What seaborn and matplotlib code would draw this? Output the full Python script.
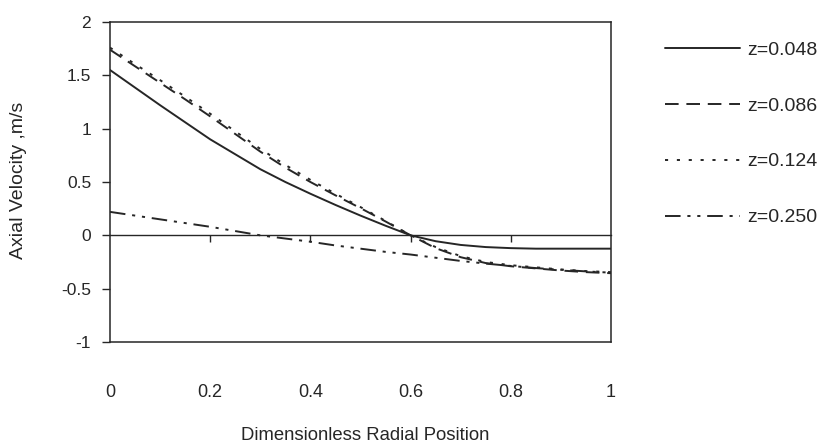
import numpy as np
import pandas as pd
import matplotlib
matplotlib.use("Agg")
import matplotlib.pyplot as plt
import seaborn as sns

# ---- data ----
r = [0.00, 0.05, 0.10, 0.15, 0.20, 0.25, 0.30, 0.35, 0.40, 0.45, 0.50,
     0.55, 0.60, 0.65, 0.70, 0.75, 0.80, 0.85, 0.90, 0.95, 1.00]
z048 = [1.55, 1.385, 1.22, 1.06, 0.90, 0.76, 0.62, 0.50, 0.39, 0.285, 0.185,
        0.09, 0.00, -0.055, -0.09, -0.11, -0.12, -0.125, -0.125, -0.125, -0.125]
z086 = [1.74, 1.585, 1.43, 1.275, 1.115, 0.95, 0.785, 0.635, 0.50, 0.375, 0.255,
        0.13, 0.00, -0.12, -0.205, -0.26, -0.29, -0.31, -0.33, -0.345, -0.355]
z124 = [1.76, 1.605, 1.455, 1.30, 1.14, 0.975, 0.81, 0.66, 0.52, 0.39, 0.265,
        0.135, 0.00, -0.11, -0.195, -0.25, -0.28, -0.30, -0.32, -0.335, -0.345]
z250 = [0.22, 0.185, 0.15, 0.115, 0.08, 0.04, 0.00, -0.03, -0.06, -0.095, -0.125,
        -0.155, -0.18, -0.21, -0.24, -0.265, -0.287, -0.307, -0.323, -0.338, -0.35]
series_labels = ["z=0.048", "z=0.086", "z=0.124", "z=0.250"]
x_ticks = [0, 0.2, 0.4, 0.6, 0.8, 1]
x_tick_labels = ["0", "0.2", "0.4", "0.6", "0.8", "1"]
y_ticks = [-1, -0.5, 0, 0.5, 1, 1.5, 2]
y_tick_labels = ["-1", "-0.5", "0", "0.5", "1", "1.5", "2"]
x_title = "Dimensionless Radial Position"
y_title = "Axial Velocity ,m/s"

frames = []
for lab, vals in zip(series_labels, [z048, z086, z124, z250]):
    frames.append(pd.DataFrame({"r": r, "v": vals, "z": lab}))
df = pd.concat(frames, ignore_index=True)

sns.set_theme(style="white")
plt.rcParams["font.family"] = ["Liberation Sans", "DejaVu Sans"]

ink = "#262626"
fig = plt.figure(figsize=(8.2, 4.43), dpi=100)
ax = fig.add_axes([110 / 820, 1 - 342 / 443, (611 - 110) / 820, (342 - 22) / 443])

dashes = {
    "z=0.048": "",
    "z=0.086": (7, 4),
    "z=0.124": (1.6, 4.5),
    "z=0.250": (8, 3.5, 1.6, 3.5, 1.6, 3.5),
}
sns.lineplot(data=df, x="r", y="v", style="z", style_order=series_labels,
             dashes=dashes, color=ink, linewidth=1.4, ax=ax, legend=True)

ax.set_xlim(0, 1)
ax.set_ylim(-1, 2)
ax.set_xticks(x_ticks)
ax.set_xticklabels(x_tick_labels)
ax.set_yticks(y_ticks)
ax.set_yticklabels(y_tick_labels)
ax.tick_params(axis="x", length=0, pad=30, labelsize=13, labelcolor=ink)
ax.tick_params(axis="y", direction="out", length=5.5, width=1, color=ink,
               pad=8, labelsize=12.5, labelcolor=ink, left=True)
for s in ax.spines.values():
    s.set_visible(True)
    s.set_color(ink)
    s.set_linewidth(1.1)

# zero line with tick marks
sec = ax.secondary_xaxis(1 / 3)
sec.set_xticks([0.2, 0.4, 0.6, 0.8])
sec.set_xticklabels([])
sec.tick_params(axis="x", direction="out", length=5, width=1, color=ink)
sec.spines["bottom"].set_color(ink)
sec.spines["bottom"].set_linewidth(1.0)

ax.set_xlabel("")
ax.set_ylabel("")
fig.text(365 / 820, 1 - 435 / 443, x_title, ha="center", va="center",
         fontsize=13.3, color=ink)
fig.text(19 / 820, 1 - 180 / 443, y_title, ha="center", va="center",
         rotation=90, fontsize=14, color=ink)

handles, labels = ax.get_legend_handles_labels()
hl = [(h, l) for h, l in zip(handles, labels) if l in series_labels]
ax.get_legend().remove()
fig.legend([h for h, l in hl], [l for h, l in hl], loc="upper left",
           bbox_to_anchor=(665 / 820, 1 - 41 / 443), frameon=False,
           fontsize=14, labelspacing=1.97, handlelength=3.87,
           handletextpad=0.36, borderpad=0, borderaxespad=0,
           labelcolor=ink)

fig.savefig("out.png", dpi=100, facecolor="white")
